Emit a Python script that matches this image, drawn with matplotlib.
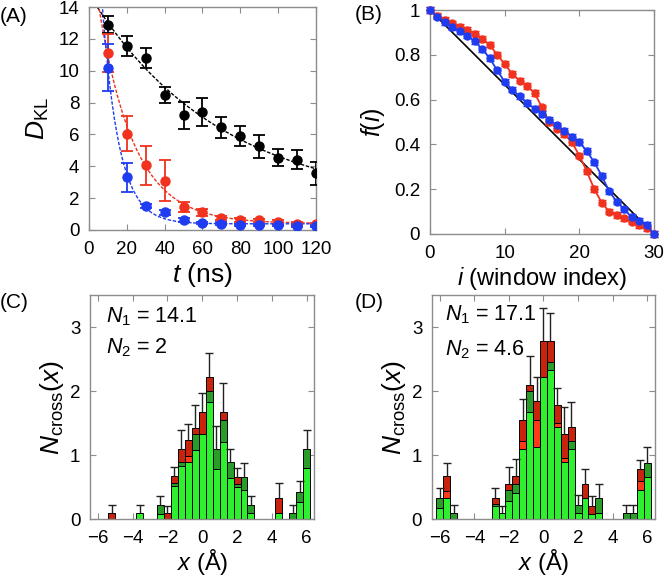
import numpy as np
import matplotlib
matplotlib.use("Agg")
import matplotlib.pyplot as plt

plt.rcParams["font.family"] = ["Liberation Sans", "DejaVu Sans"]
plt.rcParams["mathtext.fontset"] = "custom"
plt.rcParams["mathtext.rm"] = "Liberation Sans"
plt.rcParams["mathtext.it"] = "Liberation Sans:italic"

FRAME = "#8c8c8c"
RED = "#f0321e"
BLUE = "#1f3cf0"

# ---- panel A: D_KL vs simulation time
t_ns = [10, 20, 30, 40, 50, 60, 70, 80, 90, 100, 110, 120]
dkl_black = [12.9, 11.55, 10.8, 8.45, 7.2, 7.4, 6.45, 5.9, 5.25, 4.55, 4.4, 3.55]
err_black = [0.55, 0.65, 0.6, 0.5, 0.85, 0.9, 0.65, 0.65, 0.7, 0.55, 0.6, 0.7]
dkl_red = [11.1, 6.05, 4.05, 3.1, 1.45, 1.1, 0.75, 0.65, 0.6, 0.5, 0.4, 0.35]
err_red = [1.2, 1.1, 1.25, 1.3, 0.3, 0.2, 0.15, 0.12, 0.12, 0.1, 0.1, 0.08]
dkl_blue = [10.2, 3.3, 1.5, 1.1, 0.65, 0.45, 0.4, 0.3, 0.3, 0.3, 0.25, 0.25]
err_blue = [1.5, 0.9, 0.15, 0.15, 0.12, 0.08, 0.08, 0.06, 0.06, 0.06, 0.05, 0.05]

# ---- panel B: f(i) per window
window = list(range(31))
f_red = [1.0, 0.975, 0.955, 0.94, 0.925, 0.91, 0.895, 0.87, 0.845, 0.8, 0.76,
         0.715, 0.685, 0.66, 0.63, 0.565, 0.5, 0.47, 0.445, 0.41, 0.35, 0.28,
         0.2, 0.14, 0.1, 0.085, 0.07, 0.055, 0.04, 0.025, 0.0]
f_blue = [1.0, 0.97, 0.945, 0.925, 0.905, 0.885, 0.86, 0.825, 0.785, 0.73, 0.68,
          0.645, 0.615, 0.585, 0.56, 0.535, 0.51, 0.485, 0.46, 0.435, 0.41, 0.37,
          0.32, 0.26, 0.19, 0.145, 0.11, 0.075, 0.06, 0.04, 0.0]
f_err = 0.012
f_line = [1.0, 0.0]
f_line_x = [0, 30]

# ---- panels C, D: crossing histograms, bin centres -6..6 step 0.4
x_bins = [round(-6 + 0.4 * k, 1) for k in range(31)]
# levels: green top, green band top, light red top, total, error top
c_green = [0, 0, 0, 0, 0, 0, .1, 0, 0, .08, 0, .52, .83, .9, 1.08, 1.33, 1.83, .78,
           1.2, .64, .5, .45, .1, 0, 0, 0, .1, 0, 0, .27, .8]
c_band = [0, 0, 0, 0, 0, 0, .1, 0, 0, .22, 0, .57, .89, .9, 1.33, 1.33, 2.0, 1.1,
          1.55, .89, .55, .66, .22, 0, 0, 0, .1, 0, .1, .43, 1.1]
c_lred = [0, 0, 0, 0, 0, 0, .1, 0, 0, .22, 0, .57, .89, .98, 1.33, 1.33, 2.0, 1.1,
          1.55, .89, .55, .66, .22, 0, 0, 0, .1, 0, .1, .43, 1.1]
c_total = [0, 0, .1, 0, 0, 0, .1, 0, 0, .22, .1, .68, 1.1, 1.23, 1.43, 1.67, 2.22, 1.1,
           1.67, .89, .66, .66, .22, 0, 0, 0, .33, 0, .1, .43, 1.1]
c_err = [0, 0, .22, 0, 0, 0, .22, 0, 0, .36, .2, .82, 1.4, 1.48, 1.78, 1.97, 2.6, 1.45,
         2.13, 1.1, .8, .88, .37, 0, 0, 0, .56, 0, .22, .6, 1.4]

d_green = [.17, .33, 0, 0, 0, 0, 0, 0, .2, .1, .28, .4, 1.1, 1.67, 1.13, 2.22, 2.33, 1.44,
           .89, 1.1, .1, .33, .08, .1, 0, 0, 0, 0, 0, .45, .65]
d_band = [.33, .33, .1, 0, 0, 0, 0, 0, .23, .1, .45, .55, 1.1, 2.0, 1.13, 2.22, 2.45, 1.44,
          .89, 1.22, .22, .33, .08, .33, 0, 0, 0, .1, .1, .45, .88]
d_lred = [.33, .43, .1, 0, 0, 0, 0, 0, .23, .1, .45, .55, 1.22, 2.0, 1.55, 2.22, 2.45, 1.5,
          .95, 1.22, .22, .33, .08, .33, 0, 0, 0, .1, .1, .6, .88]
d_total = [.33, .67, .1, 0, 0, 0, 0, 0, .33, .1, .55, .67, 1.55, 2.1, 1.85, 2.78, 2.78, 1.78,
           1.33, 1.44, .22, .55, .2, .33, 0, 0, 0, .1, .1, .78, .88]
d_err = [.48, .88, .22, 0, 0, 0, 0, 0, .48, .2, .82, .93, 1.88, 2.55, 2.22, 3.3, 3.22, 2.05,
         1.75, 1.83, .38, .78, .36, .55, 0, 0, 0, .22, .22, .92, 1.13]


def style_axes(ax):
    for s in ax.spines.values():
        s.set_color(FRAME)
        s.set_linewidth(1.0)
    ax.tick_params(direction="in", length=4, color=FRAME, labelsize=13.5,
                   top=True, right=True)
    ax.tick_params(axis="x", pad=8)
    ax.tick_params(axis="y", pad=7)


def exp_fit(t, y):
    t = np.asarray(t, float)
    y = np.asarray(y, float)
    best = None
    for tau in np.linspace(2, 300, 3000):
        A = np.vstack([np.exp(-t / tau), np.ones_like(t)]).T
        coef, res, _, _ = np.linalg.lstsq(A, y, rcond=None)
        r = np.sum((A @ coef - y) ** 2)
        if best is None or r < best[0]:
            best = (r, tau, coef)
    _, tau, (a, c) = best
    tt = np.linspace(0.5, 120, 400)
    return tt, a * np.exp(-tt / tau) + c


def histogram(ax, green, band, lred, total, err):
    x = np.array(x_bins)
    w = 0.4
    segs = [(0, green, "#2ff02f"), (green, band, "#2a9c2a"),
            (band, lred, "#ff3a1a"), (lred, total, "#c8230c")]
    for lo, hi, col in segs:
        lo = np.zeros(len(x)) if np.isscalar(lo) else np.array(lo)
        hi = np.array(hi)
        h = hi - lo
        m = h > 1e-6
        ax.bar(x[m], h[m], bottom=lo[m], width=w, color=col,
               edgecolor="black", linewidth=0.7, zorder=2)
    tot = np.array(total)
    e = np.array(err)
    m = e > 0
    ax.vlines(x[m], tot[m], e[m], color="#222222", lw=1.0, zorder=3)
    ax.plot(x[m], e[m], ls="none", marker="_", ms=6, mew=1.0,
            color="#222222", zorder=3)
    ax.set_xlim(-6.45, 6.45)
    ax.set_ylim(0, 3.5)
    ax.set_xticks([-6, -4, -2, 0, 2, 4, 6])
    ax.set_yticks([0, 1, 2, 3])
    ax.set_xlabel(r"$\it{x}$ (Å)", fontsize=17, labelpad=0)
    ax.set_ylabel(r"$\it{N}_{\rm cross}(\it{x})$", fontsize=19, labelpad=3)
    style_axes(ax)


fig = plt.figure(figsize=(6.66, 5.79), dpi=100)

# ---- (A)
axA = fig.add_axes([0.1336, 0.6028, 0.3409, 0.3851])
for y, e, col in [(dkl_black, err_black, "black"), (dkl_red, err_red, RED),
                  (dkl_blue, err_blue, BLUE)]:
    tt, yy = exp_fit(t_ns, y)
    axA.plot(tt, yy, ls=(0, (2.5, 1.2)), lw=1.0, color=col, zorder=2)
    axA.errorbar(t_ns, y, yerr=e, fmt="o", ms=6.5, color=col, ecolor=col,
                 elinewidth=1.3, capsize=4, capthick=1.3, zorder=3)
axA.set_xlim(0, 120)
axA.set_ylim(0, 14)
axA.set_xticks(range(0, 121, 20))
axA.set_yticks(range(0, 15, 2))
axA.set_xlabel(r"$\it{t}$ (ns)", fontsize=19, labelpad=2)
axA.set_ylabel(r"$\it{D}_{\rm KL}$", fontsize=19, labelpad=5)
style_axes(axA)

# ---- (B)
axB = fig.add_axes([0.6456, 0.5959, 0.3364, 0.3868])
axB.plot(f_line_x, f_line, color="black", lw=1.2, zorder=2)
for y, col in [(f_red, RED), (f_blue, BLUE)]:
    axB.errorbar(window, y, yerr=f_err, fmt="-o", ms=5, lw=1.3, color=col,
                 ecolor=col, elinewidth=1.0, capsize=3, zorder=3, clip_on=False)
axB.set_xlim(0, 30)
axB.set_ylim(0, 1)
axB.set_xticks([0, 10, 20, 30])
axB.set_yticks([0, 0.2, 0.4, 0.6, 0.8, 1.0])
axB.set_yticklabels(["0", "0.2", "0.4", "0.6", "0.8", "1"])
axB.set_xlabel(r"$\it{i}$ (window index)", fontsize=17, labelpad=2)
axB.set_ylabel(r"$\it{f}$($\it{i}$)", fontsize=18, labelpad=5)
style_axes(axB)

# ---- (C), (D)
axC = fig.add_axes([0.1351, 0.1031, 0.3371, 0.3874])
histogram(axC, c_green, c_band, c_lred, c_total, c_err)
axC.text(0.07, 0.905, r"$\it{N}_1$ = 14.1", transform=axC.transAxes,
         fontsize=15.5, va="center")
axC.text(0.07, 0.765, r"$\it{N}_2$ = 2", transform=axC.transAxes,
         fontsize=15.5, va="center")

axD = fig.add_axes([0.6486, 0.1036, 0.3349, 0.3869])
histogram(axD, d_green, d_band, d_lred, d_total, d_err)
axD.text(0.06, 0.91, r"$\it{N}_1$ = 17.1", transform=axD.transAxes,
         fontsize=15.5, va="center")
axD.text(0.06, 0.755, r"$\it{N}_2$ = 4.6", transform=axD.transAxes,
         fontsize=15.5, va="center")

# panel letters
for x, y, s in [(0.0, 0.972, "(A)"), (0.532, 0.975, "(B)"),
                (0.0, 0.478, "(C)"), (0.532, 0.478, "(D)")]:
    fig.text(x, y, s, fontsize=15, va="center", ha="left")

fig.savefig("out.png", dpi=100)
